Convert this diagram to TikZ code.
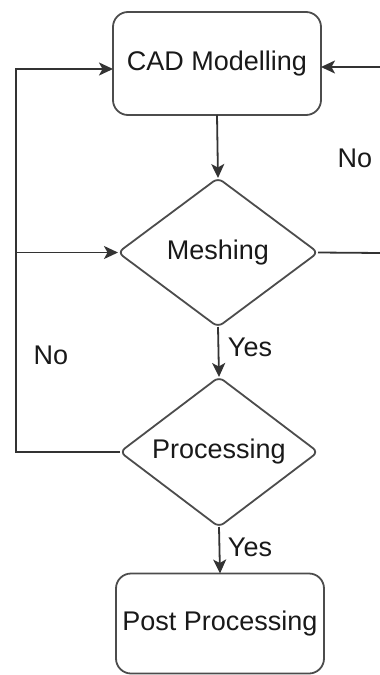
\documentclass[tikz,border=0pt]{standalone}
\usepackage{fontspec}
\setmainfont{Liberation Sans}
\usetikzlibrary{shapes.geometric,arrows.meta}
\begin{document}
\begin{tikzpicture}[x=1pt,y=-1pt,
  every node/.style={font=\fontsize{27}{32}\selectfont, text=black!90},
  boxstyle/.style={draw=black!70, line width=1.8pt, rounded corners=15pt, inner sep=0pt, outer sep=0pt},
  decstyle/.style={draw=black!70, line width=1.8pt, diamond, shape aspect=1.33, rounded corners=6pt, inner sep=0pt, outer sep=0pt},
  arr/.style={draw=black!80, line width=1.8pt, -{Stealth[length=14pt,width=13pt,inset=3.5pt]}},
  ln/.style={draw=black!80, line width=1.8pt},
  lbl/.style={inner sep=0pt}
]
\useasboundingbox (0,0) rectangle (380,675);
\node[boxstyle, minimum width=208pt, minimum height=103pt] (cad) at (217,63.5) {CAD Modelling};
\node[decstyle, minimum width=200pt, minimum height=149pt] (mesh) at (218,252.5) {Meshing};
\node[decstyle, minimum width=198pt, minimum height=150pt] (proc) at (219,452) {Processing};
\node[boxstyle, minimum width=208pt, minimum height=100pt] (post) at (220,623.5) {Post Processing};

\coordinate (lc) at (16,452);
\coordinate (lm) at (16,252.5);
\coordinate (rm) at (381,253);
\coordinate (rc) at (381,67);

\draw[arr] (cad.south) -- (mesh.north);
\draw[arr] (mesh.south) -- (proc.north);
\draw[arr] (proc.south) -- (post.north);
\draw[arr] (proc.west) -- (lc) |- ([yshift=-5.5pt]cad.west);
\draw[arr] (lm) -- (mesh.west);
\draw[ln] (mesh.east) -- (rm);
\draw[arr] (rc) -- ([yshift=-3.5pt]cad.east);

\node[lbl] (no1) at (355,158) {No};
\node[lbl] (no2) at (51,355) {No};
\node[lbl] (yes1) at (250,347) {Yes};
\node[lbl] (yes2) at (250,547) {Yes};
\end{tikzpicture}
\end{document}
